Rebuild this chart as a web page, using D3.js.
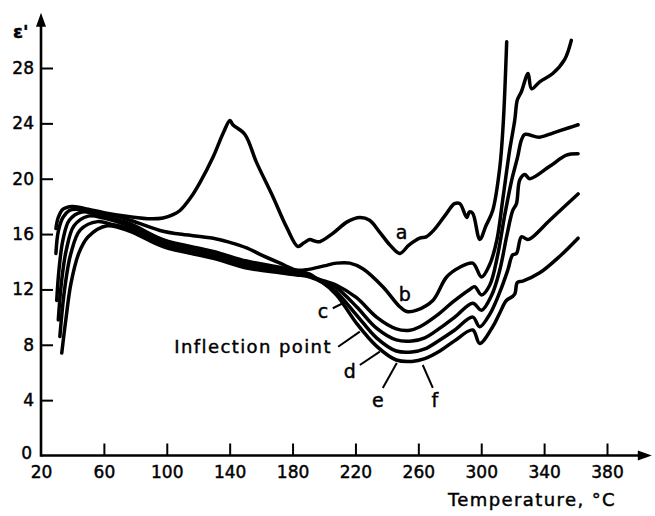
<!DOCTYPE html>
<html lang="en">
<head>
    <meta charset="UTF-8">
    <title>Permittivity vs temperature</title>
    <script src="https://cdn.jsdelivr.net/npm/d3@7/dist/d3.min.js"></script>
    <style>
        body{
            margin:0px;
            background:#fff;
        }
        svg{
            position:absolute;
            left:0px;
            top:0px;
        }
        text{
            font-family:"DejaVu Sans", sans-serif;
            fill:#000;
            stroke:#000;
            stroke-width:0.45px;
        }
    </style>
</head>
<body>
    <svg id="chart" width="655" height="516"></svg>
    <script>
        // tick labels
        var xTicks = [20, 60, 100, 140, 180, 220, 260, 300, 340, 380]
        var yTicks = [0, 4, 8, 12, 16, 20, 24, 28]

        // curves, [temperature, permittivity]
        var curveA = [[29.5,16.4],[31,17.2],[34,17.8],[40,18.0],[50,17.8],[60,17.55],[76.6,17.25],[90,17.1],[97.6,17.16],[104,17.4],[108.4,17.7],[115,18.6],[121,19.7],[129.6,21.6],[135.9,23.3],[140.2,24.2],[142,23.9],[149.7,23.2],[157,21.2],[167.5,18.7],[176.2,16.5],[183.4,15.1],[187,15.35],[191,15.6],[194,15.5],[197.4,15.45],[205.6,16.05],[215,16.9],[222.8,17.2],[229,17.0],[235,16.2],[242,15.2],[248.2,14.6],[254,15.2],[260.9,15.7],[265,15.8],[270,16.3],[278,17.5],[283,18.2],[286.4,18.2],[290.8,17.2],[292.5,17.6],[294.6,17.5],[299.1,15.6],[303,16.6],[307.3,17.7],[311.8,20.8],[314,24],[316.2,29.9]]
        var curveB = [[29.5,14.6],[31,16.2],[34,17.2],[38,17.7],[42,17.8],[60,17.5],[76.6,17.0],[97.6,16.2],[108,16.0],[129.6,15.7],[140,15.4],[150.8,15.0],[160,14.5],[172,13.9],[182.5,13.4],[190,13.45],[200,13.7],[208,13.9],[216.4,13.9],[224.7,13.5],[237.4,12.2],[248.2,10.75],[252.7,10.4],[259,10.5],[269.2,11.2],[278,12.9],[286.4,13.6],[294.6,13.9],[300.2,12.9],[305.4,13.8],[310,15.6],[313.7,18.5],[318,22],[321.3,24.2],[323,25.7],[325.6,26.3],[329.8,27.6],[332,26.5],[337.2,27.0],[345.5,27.6],[353,28.6],[357.3,30.0]]
        var curveC = [[30,11.2],[31.5,13.5],[34,15.6],[38,17.0],[46,17.6],[60,17.3],[76.6,16.75],[97.6,15.6],[129.6,14.75],[150.8,14.05],[172,13.6],[182.6,13.35],[191,13.1],[195.3,12.8],[208,12.3],[220.7,11.4],[233.4,10.0],[246,9.15],[254.6,9.05],[261,9.3],[271.6,10.1],[282,11.1],[292.7,12.0],[295.9,12.2],[300.2,11.6],[305.4,12.3],[310.5,14.5],[315,17.4],[319.4,19.9],[323,21.5],[325.6,22.8],[327.7,23.2],[337,23.0],[345.5,23.3],[356.3,23.7],[361.6,23.9]]
        var curveD = [[31,9.8],[33,12.5],[36,14.8],[41,16.6],[50,17.3],[60,17.15],[76.6,16.55],[97.6,15.45],[129.6,14.6],[150.8,13.9],[172,13.45],[182.6,13.25],[191,13.0],[197,12.7],[208,12.1],[220.7,10.75],[233.4,9.2],[246,8.35],[255.9,8.27],[264.1,8.5],[273.7,9.2],[283.2,10.0],[294.6,11.0],[300.2,10.5],[306.7,11.6],[311.8,13.4],[316.3,15.9],[320,17.7],[322.4,18.2],[324.5,19.9],[327.7,20.3],[330.9,20.0],[343.6,20.9],[354.2,21.7],[361.6,21.8]]
        var curveE = [[32,8.6],[35,12.0],[39,14.6],[45,16.3],[56,16.9],[65,16.7],[76.6,16.35],[97.6,15.25],[129.6,14.4],[150.8,13.7],[172,13.3],[182.6,13.1],[191,12.95],[198,12.6],[208,11.8],[220.7,10.15],[233.4,8.5],[246,7.55],[255.9,7.48],[264.1,7.7],[273.7,8.35],[283.2,9.07],[294.6,10.0],[299,9.3],[305.4,10.2],[311.8,11.8],[316.9,13.4],[320,14.5],[322.4,14.6],[325.6,15.8],[329.6,15.6],[332.8,15.8],[343.6,17.0],[361.6,18.9]]
        var curveF = [[33.2,7.4],[36,10],[39,12.4],[44,14.6],[50,15.8],[62,16.6],[76.6,16.2],[97.6,15.1],[129.6,14.25],[150.8,13.55],[172,13.2],[182.6,13.05],[191,12.9],[199,12.5],[208,11.6],[220.7,9.55],[233.4,7.9],[246,6.9],[255.9,6.8],[264.1,7.0],[273.7,7.55],[283.2,8.3],[294.6,9.07],[299,8.1],[307.3,9.3],[311.8,10.3],[316,11.2],[320,11.5],[321.5,11.7],[323,12.5],[326.4,12.6],[337.2,13.2],[350,14.4],[361.6,15.7]]

        // curve letters and pointer lines, in data units
        var letters = [
            {text:"a", at:[249.3,16.15]},
            {text:"b", at:[251.4,11.67]},
            {text:"c", at:[199.3,10.4]},
            {text:"d", at:[216.4,6.05]},
            {text:"e", at:[234.2,4.0]},
            {text:"f", at:[270.5,4.0]}
        ]
        var pointers = [
            [[205.6,10.64],[212,11.0]],
            [[209,7.86],[222.8,8.95]],
            [[222.8,6.54],[235.5,7.5]],
            [[237.4,4.88],[246.3,6.68]],
            [[269.2,4.88],[262.8,6.54]]
        ]

        var svg = d3.select("#chart")

        var x = d3.scaleLinear().domain([20, 380]).range([41, 607])
        var y = d3.scaleLinear().domain([0, 28]).range([455.5, 68])

        // axes, ticks point inward
        var xAxis = svg.append("g")
            .attr("transform", "translate(0," + y(0) + ")")
            .call(d3.axisBottom(x).tickValues(xTicks).tickSizeInner(-12).tickSizeOuter(0).tickPadding(10))
        var yAxis = svg.append("g")
            .attr("transform", "translate(" + x(20) + ",0)")
            .call(d3.axisLeft(y).tickValues(yTicks).tickSizeInner(-12).tickSizeOuter(0).tickPadding(7))

        ;[xAxis, yAxis].forEach(function(g){
            g.select(".domain").remove()
            g.selectAll(".tick line").attr("stroke", "#000").attr("stroke-width", 2)
            g.selectAll(".tick text").style("font-size", "17px").attr("fill", "#000")
        })
        xAxis.selectAll(".tick").filter(function(d){ return d == 20 }).select("line").remove()
        yAxis.selectAll(".tick").filter(function(d){ return d == 0 }).select("line").remove()
        yAxis.selectAll(".tick").filter(function(d){ return d == 0 }).select("text").attr("dy", "0.15em").attr("x", -9)

        // axis lines with arrows
        var xEnd = x(408.5), yEnd = y(32)
        svg.append("line")
            .attr("x1", x(20)).attr("y1", y(0)).attr("x2", xEnd - 8).attr("y2", y(0))
            .attr("stroke", "#000").attr("stroke-width", 2.6)
        svg.append("line")
            .attr("x1", x(20)).attr("y1", y(0) + 1.3).attr("x2", x(20)).attr("y2", yEnd + 8)
            .attr("stroke", "#000").attr("stroke-width", 2.6)
        svg.append("path")
            .attr("d", "M" + xEnd + "," + y(0) + "l-14,-5l0,10z")
            .attr("fill", "#000")
        svg.append("path")
            .attr("d", "M" + x(20) + "," + yEnd + "l-5,14l10,0z")
            .attr("fill", "#000")

        // axis titles
        svg.append("text")
            .attr("x", 13).attr("y", 38)
            .style("font-size", "18px").style("font-weight", "bold")
            .text("ε'")
        svg.append("text")
            .attr("x", 448).attr("y", 506)
            .style("font-size", "18px").style("letter-spacing", "1.4px")
            .text("Temperature, °C")

        // curves
        var line = d3.line()
            .x(function(d){ return x(d[0]) })
            .y(function(d){ return y(d[1]) })
            .curve(d3.curveCatmullRom.alpha(0.5))

        svg.append("g").selectAll("path")
            .data([curveA, curveB, curveC, curveD, curveE, curveF])
            .enter().append("path")
            .attr("d", line)
            .attr("fill", "none")
            .attr("stroke", "#000")
            .attr("stroke-width", 3.5)
            .attr("stroke-linejoin", "round")
            .attr("stroke-linecap", "round")

        // pointers and letters
        svg.append("g").selectAll("line")
            .data(pointers)
            .enter().append("line")
            .attr("x1", function(d){ return x(d[0][0]) })
            .attr("y1", function(d){ return y(d[0][1]) })
            .attr("x2", function(d){ return x(d[1][0]) })
            .attr("y2", function(d){ return y(d[1][1]) })
            .attr("stroke", "#000")
            .attr("stroke-width", 2)

        svg.append("g").selectAll("text")
            .data(letters)
            .enter().append("text")
            .attr("x", function(d){ return x(d.at[0]) })
            .attr("y", function(d){ return y(d.at[1]) })
            .attr("text-anchor", "middle")
            .attr("dy", "0.35em")
            .style("font-size", "19px")
            .text(function(d){ return d.text })

        svg.append("text")
            .attr("x", x(205)).attr("y", y(7.4))
            .attr("text-anchor", "end")
            .style("font-size", "18px").style("letter-spacing", "1.4px")
            .text("Inflection point")
    </script>
</body>
</html>
